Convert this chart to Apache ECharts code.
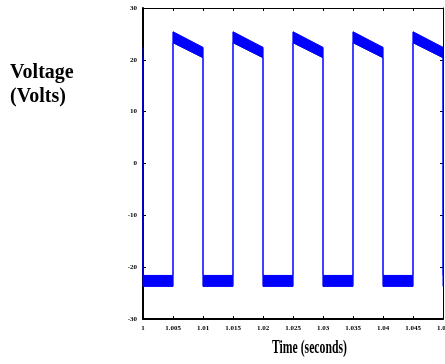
<!DOCTYPE html>
<html>
<head>
<meta charset="utf-8">
<script src="https://cdn.jsdelivr.net/npm/echarts@6/dist/echarts.min.js"></script>
<style>html,body{margin:0;padding:0;background:#fff;}#c{width:445px;height:364px;}</style>
</head>
<body>
<div id="c"></div>
<script>
// Segment boundaries (seconds) and state of each segment (1 = high, 0 = low)
const edgeTimes = [1, 1.005, 1.01, 1.015, 1.02, 1.025, 1.03, 1.035, 1.04, 1.045, 1.05];
const segState  = [0, 1, 0, 1, 0, 1, 0, 1, 0, 1];
// Ripple band envelopes (volts)
const highUpperStart = 25.4, highUpperEnd = 22.4;
const highLowerStart = 23.3, highLowerEnd = 20.4;
const lowUpper = -21.6, lowLower = -23.7;
const startValueUpper = 22.4, startValueLower = 20.4;
const xTicks = { min: 1, max: 1.05, interval: 0.005 };
const yTicks = { min: -30, max: 30, interval: 10 };

// Build band segments and envelope paths
const bands = [];
const upperPath = [[edgeTimes[0], startValueUpper]];
const lowerPath = [[edgeTimes[0], startValueLower]];
for (let i = 0; i < segState.length; i++) {
  const t0 = edgeTimes[i], t1 = edgeTimes[i + 1];
  let u0, u1, l0, l1;
  if (segState[i]) { u0 = highUpperStart; u1 = highUpperEnd; l0 = highLowerStart; l1 = highLowerEnd; }
  else { u0 = lowUpper; u1 = lowUpper; l0 = lowLower; l1 = lowLower; }
  bands.push([t0, t1, u0, u1, l0, l1]);
  upperPath.push([t0, u0], [t1, u1]);
  lowerPath.push([t0, l0], [t1, l1]);
}
upperPath.push([edgeTimes[edgeTimes.length - 1], lowUpper]);
lowerPath.push([edgeTimes[edgeTimes.length - 1], lowLower]);

const BLUE = '#0000ff';
const labelFont = { fontFamily: 'Liberation Serif', fontWeight: 'bold', fontSize: 7, color: '#000' };
const chart = echarts.init(document.getElementById('c'), null, { renderer: 'canvas' });
chart.setOption({
  animation: false,
  backgroundColor: '#fff',
  grid: { left: 143, right: 2, top: 8, bottom: 45, containLabel: false, outerBoundsMode: 'none' },
  xAxis: [
    { type: 'value', min: xTicks.min, max: xTicks.max, interval: xTicks.interval, position: 'bottom',
      axisLine: { onZero: false, lineStyle: { color: '#000', width: 2 } },
      axisTick: { inside: true, length: 3, lineStyle: { color: '#000' } },
      axisLabel: Object.assign({ margin: 6, showMaxLabel: true, showMinLabel: true, hideOverlap: false }, labelFont),
      splitLine: { show: false } },
    { type: 'value', min: xTicks.min, max: xTicks.max, interval: xTicks.interval, position: 'top',
      axisLine: { onZero: false, lineStyle: { color: '#000', width: 1 } },
      axisTick: { inside: true, length: 3, lineStyle: { color: '#000' } },
      axisLabel: { show: false }, splitLine: { show: false } }
  ],
  yAxis: [
    { type: 'value', min: yTicks.min, max: yTicks.max, interval: yTicks.interval, position: 'left',
      axisLine: { show: true, onZero: false, lineStyle: { color: '#000', width: 2 } },
      axisTick: { show: true, inside: true, length: 3, lineStyle: { color: '#000' } },
      axisLabel: Object.assign({ margin: 6 }, labelFont),
      splitLine: { show: false } },
    { type: 'value', min: yTicks.min, max: yTicks.max, interval: yTicks.interval, position: 'right',
      axisLine: { show: true, onZero: false, lineStyle: { color: '#000', width: 1 } },
      axisTick: { show: true, inside: true, length: 3, lineStyle: { color: '#000' } },
      axisLabel: { show: false }, splitLine: { show: false } }
  ],
  series: [
    { type: 'custom', xAxisIndex: 0, yAxisIndex: 0, data: bands, clip: true,
      encode: { x: [0, 1], y: [2, 3, 4, 5] },
      renderItem: function (params, api) {
        const t0 = api.value(0), t1 = api.value(1);
        const pts = [api.coord([t0, api.value(2)]), api.coord([t1, api.value(3)]),
                     api.coord([t1, api.value(5)]), api.coord([t0, api.value(4)])];
        return { type: 'polygon', shape: { points: pts }, style: { fill: BLUE, stroke: BLUE, lineWidth: 0.5 } };
      } },
    { type: 'line', data: upperPath, showSymbol: false, symbol: 'none', lineStyle: { color: BLUE, width: 1 } },
    { type: 'line', data: lowerPath, showSymbol: false, symbol: 'none', lineStyle: { color: BLUE, width: 1 } }
  ],
  graphic: [
    { type: 'text', x: 10, y: 61, style: { text: 'Voltage\n(Volts)', font: 'bold 20px "Liberation Serif"', lineHeight: 24, fill: '#000' } },
    { type: 'text', x: 272, y: 339, scaleX: 0.65, style: { text: 'Time (seconds)', font: 'bold 18px "Liberation Serif"', fill: '#000' } }
  ]
});
</script>
</body>
</html>
